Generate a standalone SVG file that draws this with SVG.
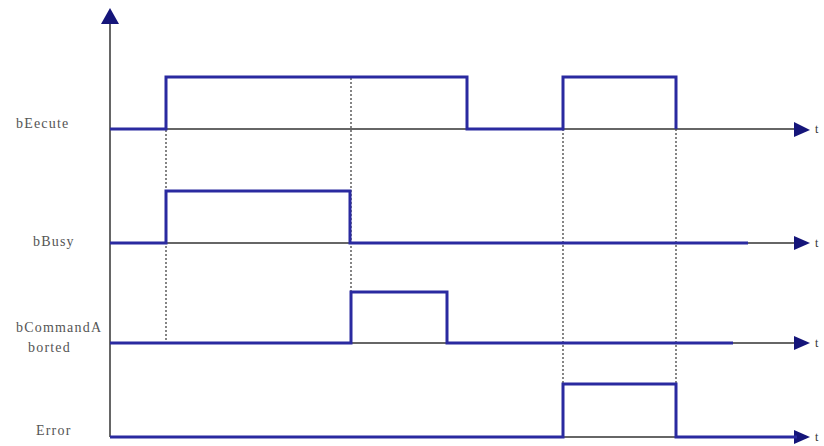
<svg xmlns="http://www.w3.org/2000/svg" width="824" height="446" viewBox="0 0 824 446">
<style>
.axis{stroke:#333;stroke-width:1.5;fill:none}
.sig{stroke:#2a2aa0;stroke-width:3;fill:none;stroke-linejoin:miter}
.dot{stroke:#444;stroke-width:1.3;stroke-dasharray:2,2;fill:none}
.lbl{font-family:"Liberation Serif","DejaVu Serif",serif;font-size:14px;letter-spacing:1.2px;fill:#555}
.t{font-family:"Liberation Serif","DejaVu Serif",serif;font-size:12px;fill:#333}
.head{fill:#15157a}
</style>
<rect width="824" height="446" fill="#fff"/>
<g id="connectors">
<line class="axis" x1="110" y1="20" x2="110" y2="437" stroke="#2a2a70"/>
<polygon class="head" points="110,8 101,24 119,24"/>
<line class="axis" x1="110" y1="129" x2="797" y2="129"/>
<polygon class="head" points="794,122 810,130 794,137"/>
<line class="axis" x1="110" y1="243" x2="797" y2="243"/>
<polygon class="head" points="794,236 810,243 794,250"/>
<line class="axis" x1="110" y1="343" x2="797" y2="343"/>
<polygon class="head" points="794,336 810,343 794,350"/>
<line class="axis" x1="110" y1="437" x2="797" y2="437"/>
<polygon class="head" points="794,430 810,437 794,444"/>
<line class="dot" x1="166" y1="78" x2="166" y2="343"/>
<line class="dot" x1="351" y1="78" x2="351" y2="292"/>
<line class="dot" x1="563" y1="129" x2="563" y2="384"/>
<line class="dot" x1="676" y1="129" x2="676" y2="384"/>
</g>
<g id="bEecute">
<text class="lbl" x="16" y="128">bEecute</text>
<polyline class="sig" points="110,129 166,129 166,77 467,77 467,129 563,129 563,77 676,77 676,129"/>
<text class="t" x="815" y="133">t</text>
</g>
<g id="bBusy">
<text class="lbl" x="33" y="246">bBusy</text>
<polyline class="sig" points="110,243 166,243 166,191 350,191 350,243 748,243"/>
<text class="t" x="815" y="247">t</text>
</g>
<g id="bCommandAborted">
<text class="lbl" x="16" y="332">bCommandA</text>
<text class="lbl" x="28" y="352">borted</text>
<polyline class="sig" points="110,343 351,343 351,292 447,292 447,343 733,343"/>
<text class="t" x="815" y="347">t</text>
</g>
<g id="Error">
<text class="lbl" x="36" y="435">Error</text>
<polyline class="sig" points="110,437 563,437 563,384 676,384 676,437 797,437"/>
<text class="t" x="815" y="441">t</text>
</g>
</svg>
